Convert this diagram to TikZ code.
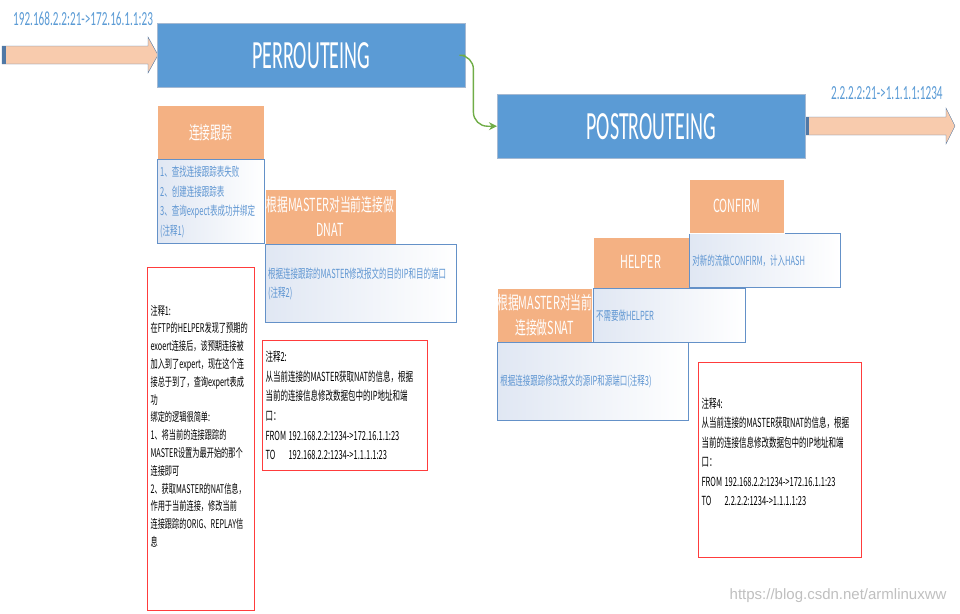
\documentclass[tikz,border=0pt]{standalone}
\usepackage{fontspec}
\setmainfont{Carlito}
\newfontfamily\cjk{Noto Sans CJK SC}[FakeStretch=0.6]
\newfontfamily\narrowfont{Carlito}[FakeStretch=0.56]
\newfontfamily\titlenarrow{Carlito}[FakeStretch=0.5]
\newfontfamily\markfamily{Liberation Sans}
\usetikzlibrary{arrows.meta,positioning}
\definecolor{stageblue}{RGB}{91,155,213}
\definecolor{stageline}{RGB}{165,185,210}
\definecolor{steporange}{RGB}{244,177,131}
\definecolor{descline}{RGB}{100,145,200}
\definecolor{descshade}{RGB}{224,231,243}
\definecolor{desctext}{RGB}{95,150,210}
\definecolor{notered}{RGB}{255,60,60}
\definecolor{arrowfill}{RGB}{248,203,173}
\definecolor{arrowline}{RGB}{80,120,165}
\definecolor{flowgreen}{RGB}{112,173,71}
\definecolor{labelblue}{RGB}{91,155,213}
\newcommand\stagefont{\titlenarrow\fontsize{40}{44}\selectfont}
\newcommand\stepfont{\cjk\fontsize{18}{25}\selectfont}
\newcommand\descfont{\cjk\fontsize{12.5}{19.5}\selectfont}
\newcommand\notefont{\cjk\fontsize{12}{17.8}\selectfont}
\newcommand\widenotefont{\cjk\fontsize{12.5}{19.5}\selectfont}
\newcommand\labelfont{\narrowfont\fontsize{20}{22}\selectfont}
\newcommand\ipfrom{\makebox[23pt][l]{FROM}}
\newcommand\ipto{\makebox[23pt][l]{TO}}
\tikzset{
    stage/.style ={rectangle, draw=stageline, fill=stageblue, text=white, font=\stagefont,
                   minimum width=308pt, minimum height=64pt, inner sep=0pt},
    stepbox/.style ={rectangle, draw=white, fill=steporange, text=white, align=center,
                     inner sep=0pt, font=\stepfont},
    descbox/.style ={rectangle, draw=descline, line width=0.9pt, left color=descshade, right color=white,
                     text=desctext, align=left, inner sep=3pt, font=\descfont},
    notebox/.style ={rectangle, draw=notered, line width=1.1pt, fill=white, text=black, align=left,
                     inner sep=3pt, font=\notefont},
    bigarrow/.style={draw=arrowline, fill=arrowfill, thin},
    flow/.style ={-{Stealth[length=8pt,width=8pt]}, draw=flowgreen, line width=1.4pt,
                  rounded corners=14pt},
    iplabel/.style={text=labelblue, font=\labelfont, inner sep=0pt}
}

\begin{document}
\begin{tikzpicture}[x=1pt,y=-1pt]
  \useasboundingbox (0,0) rectangle (960,613);

  % Draw the block arrows
  \draw[bigarrow] (2,46) -- (148,46) -- (148,37) -- (158,55) -- (148,73) -- (148,64) -- (2,64) -- cycle;
  \fill[arrowline] (2,46) rectangle (6,64);
  \draw[bigarrow] (805,117) -- (946,117) -- (946,108) -- (955,126) -- (946,144) -- (946,135) -- (805,135) -- cycle;
  \fill[arrowline] (805,117) rectangle (809,135);

  % Draw the nodes
  \node[iplabel, anchor=west] (inlabel) at (13,19) {192.168.2.2:21->172.16.1.1:23};
  \node[iplabel, anchor=west] (outlabel) at (831,93) {2.2.2.2:21->1.1.1.1:1234};
  \node[stage, anchor=north west] (pre) at (157,23) {PERROUTEING};
  \node[stage, anchor=north west] (post) at (497,94) {POSTROUTEING};

  \node[stepbox, anchor=north west, minimum width=107pt, minimum height=54pt] (track) at (157,105) {连接跟踪};
  \node[descbox, below=0pt of track, text width=101pt, minimum height=84pt] (tracknote)
    {1、查找连接跟踪表失败\\2、创建连接跟踪表\\3、查询expect表成功并绑定\\(注释1)};
  \node[stepbox, above right=0pt of tracknote.south east, minimum width=131pt, minimum height=55pt] (dnat)
    {根据MASTER对当前连接做\\DNAT};
  \node[descbox, below right=0pt of dnat.south west, text width=185pt, minimum height=78pt] (dnatnote)
    {根据连接跟踪的MASTER修改报文的目的IP和目的端口\\(注释2)};

  \node[stepbox, anchor=north west, minimum width=95pt, minimum height=54pt] (snat) at (497,288)
    {根据MASTER对当前\\连接做SNAT};
  \node[descbox, below right=0pt of snat.south west, text width=185pt, minimum height=78pt] (snatnote)
    {根据连接跟踪修改报文的源IP和源端口(注释3)};
  \node[stepbox, above right=0pt of snat.north east, minimum width=96pt, minimum height=51pt] (helper) {HELPER};
  \node[descbox, below right=0pt of helper.south west, text width=146pt, minimum height=54pt] (helpernote)
    {不需要做HELPER};
  \node[descbox, above right=0pt of helper.south east, text width=145pt, minimum height=54pt] (confirmnote)
    {对新的流做CONFIRM，计入HASH};
  \node[stepbox, above right=0pt of confirmnote.north west, minimum width=95pt, minimum height=54pt] (confirm) {CONFIRM};

  % Draw the notes
  \node[notebox, anchor=north west, text width=101pt, minimum height=343pt] (note1) at (147,267)
    {注释1:\\在FTP的HELPER发现了预期的\\exoert连接后，该预期连接被\\加入到了expert，现在这个连\\接总于到了，查询expert表成\\功\\绑定的逻辑很简单:\\1、将当前的连接跟踪的\\MASTER设置为最开始的那个\\连接即可\\2、获取MASTER的NAT信息，\\作用于当前连接，修改当前\\连接跟踪的ORIG、REPLAY信\\息\par\vspace{26pt}};
  \node[notebox, anchor=north west, text width=159pt, minimum height=130pt, font=\widenotefont] (note2) at (262,340)
    {注释2:\\从当前连接的MASTER获取NAT的信息，根据\\当前的连接信息修改数据包中的IP地址和端\\口：\\\ipfrom192.168.2.2:1234->172.16.1.1:23\\\ipto192.168.2.2:1234->1.1.1.1:23};
  \node[notebox, anchor=north west, text width=157pt, minimum height=195pt, font=\widenotefont] (note4) at (698,362)
    {注释4:\\从当前连接的MASTER获取NAT的信息，根据\\当前的连接信息修改数据包中的IP地址和端\\口：\\\ipfrom192.168.2.2:1234->172.16.1.1:23\\\ipto2.2.2.2:1234->1.1.1.1:23\par\vspace{17pt}};

  \node[anchor=east, text=black!25, font=\markfamily\fontsize{15}{16}\selectfont] (mark) at (950,596)
    {https://blog.csdn.net/armlinuxww};

  % Draw the arrows
  \draw[flow] (pre.east) -- ++(8,0) |- (post.west);
\end{tikzpicture}
\end{document}
